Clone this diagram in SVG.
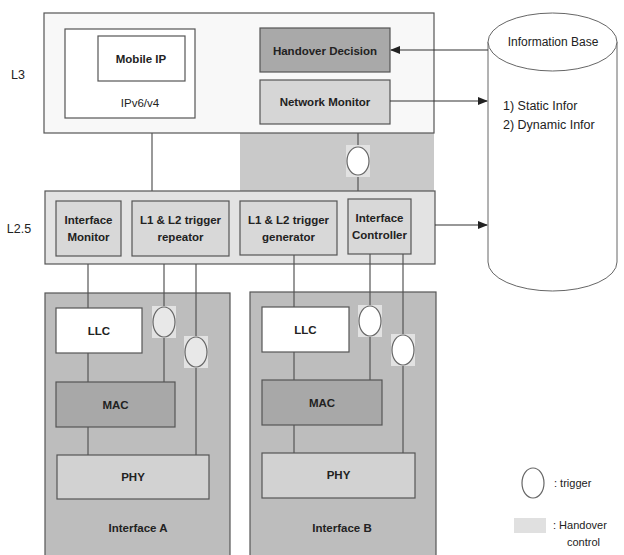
<svg xmlns="http://www.w3.org/2000/svg" width="624" height="555" viewBox="0 0 624 555">
<defs>
<style>
.t{font-family:"Liberation Sans",Arial,sans-serif;font-size:11.5px;font-weight:bold;fill:#222;text-anchor:middle}
.n{font-family:"Liberation Sans",Arial,sans-serif;font-size:12.5px;fill:#222}
.b{stroke:#555;stroke-width:1.2}
.ln{stroke:#555;stroke-width:1.2;fill:none}
.trg{fill:#e8e8e8;stroke:#666;stroke-width:1.2}
.sq{fill:#e2e2e2}
</style>
<marker id="ah" markerWidth="10" markerHeight="8" refX="9" refY="4" orient="auto" markerUnits="userSpaceOnUse">
<path d="M0,0 L10,4 L0,8 z" fill="#222"/>
</marker>
</defs>
<rect width="624" height="555" fill="#fff"/>

<text class="t" x="18" y="79" style="font-weight:normal;font-size:12.5px">L3</text>
<text class="t" x="19" y="233" style="font-weight:normal;font-size:12.5px">L2.5</text>

<g id="handover-control-area">
<rect x="240" y="133" width="194" height="58" fill="#c9c9c9"/>
</g>

<g id="l3">
<rect x="44" y="13" width="390" height="120" fill="#f8f8f8" class="b"/>
</g>
<g id="ipv6">
<rect x="65" y="29" width="130" height="89" fill="#fff" class="b"/>
<text class="t" x="140" y="107" style="font-weight:normal">IPv6/v4</text>
</g>
<g id="mobile-ip">
<rect x="98" y="36" width="87" height="45" fill="#fff" class="b"/>
<text class="t" x="141" y="63">Mobile IP</text>
</g>
<g id="handover-decision">
<rect x="260" y="28" width="130" height="44" fill="#a9a9a9" class="b"/>
<text class="t" x="325" y="55">Handover Decision</text>
</g>
<g id="network-monitor">
<rect x="260" y="80" width="130" height="44" fill="#d6d6d6" class="b"/>
<text class="t" x="325" y="106">Network Monitor</text>
</g>

<g id="information-base">
<path d="M488,42 L488,262 A64.5,29 0 0 0 617,262 L617,42" fill="#fff" stroke="#666" stroke-width="1"/>
<ellipse cx="552.5" cy="42" rx="64.5" ry="29" fill="#fff" stroke="#666" stroke-width="1"/>
<text class="t" x="553" y="46" style="font-weight:normal;font-size:12px">Information Base</text>
<text class="n" x="503" y="110">1) Static Infor</text>
<text class="n" x="503" y="129">2) Dynamic Infor</text>
</g>

<g id="l25">
<rect x="45" y="191" width="390" height="73" fill="#e3e3e3" class="b"/>
</g>
<g id="interface-monitor">
<rect x="56" y="201" width="65" height="55" fill="#d8d8d8" class="b"/>
<text class="t" x="88.5" y="224">Interface</text>
<text class="t" x="88.5" y="241">Monitor</text>
</g>
<g id="trigger-repeator">
<rect x="132" y="201" width="97" height="55" fill="#d8d8d8" class="b"/>
<text class="t" x="180.5" y="224">L1 &amp; L2 trigger</text>
<text class="t" x="180.5" y="241">repeator</text>
</g>
<g id="trigger-generator">
<rect x="240" y="201" width="97" height="54" fill="#d8d8d8" class="b"/>
<text class="t" x="288.5" y="224">L1 &amp; L2 trigger</text>
<text class="t" x="288.5" y="241">generator</text>
</g>
<g id="interface-controller">
<rect x="348" y="199" width="63" height="55" fill="#d8d8d8" class="b"/>
<text class="t" x="379.5" y="222">Interface</text>
<text class="t" x="379.5" y="239">Controller</text>
</g>

<g id="interface-a">
<rect x="45" y="293" width="185" height="270" fill="#bdbdbd" class="b"/>
<text class="t" x="138" y="532">Interface A</text>
</g>
<g id="interface-b">
<rect x="250" y="292" width="186" height="270" fill="#bdbdbd" class="b"/>
<text class="t" x="342" y="532">Interface B</text>
</g>

<g id="connectors">
<line class="ln" x1="152" y1="133" x2="152" y2="191"/>
<line class="ln" x1="358" y1="133" x2="358" y2="191"/>
<line class="ln" x1="88" y1="264" x2="88" y2="308"/>
<line class="ln" x1="164" y1="264" x2="164" y2="382"/>
<line class="ln" x1="196" y1="264" x2="196" y2="455"/>
<line class="ln" x1="88" y1="353" x2="88" y2="382"/>
<line class="ln" x1="88" y1="427" x2="88" y2="455"/>
<line class="ln" x1="294" y1="255" x2="294" y2="307"/>
<line class="ln" x1="370" y1="254" x2="370" y2="380"/>
<line class="ln" x1="403" y1="254" x2="403" y2="453"/>
<line class="ln" x1="294" y1="352" x2="294" y2="380"/>
<line class="ln" x1="294" y1="425" x2="294" y2="453"/>
<line x1="488" y1="50" x2="391" y2="50" stroke="#333" stroke-width="1.2" marker-end="url(#ah)"/>
<line x1="390" y1="101" x2="487" y2="101" stroke="#333" stroke-width="1.2" marker-end="url(#ah)"/>
<line x1="435" y1="225" x2="487" y2="225" stroke="#333" stroke-width="1.2" marker-end="url(#ah)"/>
</g>

<g id="llc-a">
<rect x="56" y="308" width="86" height="45" fill="#fff" class="b"/>
<text class="t" x="99" y="335">LLC</text>
</g>
<g id="mac-a">
<rect x="56" y="382" width="119" height="45" fill="#a8a8a8" class="b"/>
<text class="t" x="115.5" y="409">MAC</text>
</g>
<g id="phy-a">
<rect x="57" y="455" width="152" height="44" fill="#d2d2d2" class="b"/>
<text class="t" x="133" y="481">PHY</text>
</g>
<g id="llc-b">
<rect x="262" y="307" width="87" height="45" fill="#fff" class="b"/>
<text class="t" x="305.5" y="334">LLC</text>
</g>
<g id="mac-b">
<rect x="262" y="380" width="120" height="45" fill="#a8a8a8" class="b"/>
<text class="t" x="322" y="407">MAC</text>
</g>
<g id="phy-b">
<rect x="262" y="453" width="153" height="45" fill="#d2d2d2" class="b"/>
<text class="t" x="338.5" y="479">PHY</text>
</g>

<g id="triggers">
<rect class="sq" x="346" y="145" width="24" height="32"/>
<ellipse class="trg" cx="358" cy="161" rx="11" ry="14" style="fill:#fff"/>
<rect class="sq" x="152" y="306" width="24" height="32"/>
<ellipse class="trg" cx="164" cy="322" rx="11" ry="15"/>
<rect class="sq" x="184" y="336" width="24" height="32"/>
<ellipse class="trg" cx="196" cy="352" rx="11" ry="15"/>
<rect class="sq" x="358" y="305" width="24" height="32"/>
<ellipse class="trg" cx="370" cy="321" rx="11" ry="15" style="fill:#fff"/>
<rect class="sq" x="391" y="334" width="24" height="32"/>
<ellipse class="trg" cx="403" cy="350" rx="11" ry="15" style="fill:#fff"/>
</g>

<g id="legend">
<ellipse cx="533" cy="483" rx="11" ry="15" fill="#fff" stroke="#666" stroke-width="1.2"/>
<text class="n" x="554" y="487" style="font-size:11px">: trigger</text>
<rect x="514" y="518" width="32" height="15" fill="#e0e0e0"/>
<text class="n" x="553" y="529" style="font-size:11px">: Handover</text>
<text class="n" x="567" y="546" style="font-size:11px">control</text>
</g>
</svg>
